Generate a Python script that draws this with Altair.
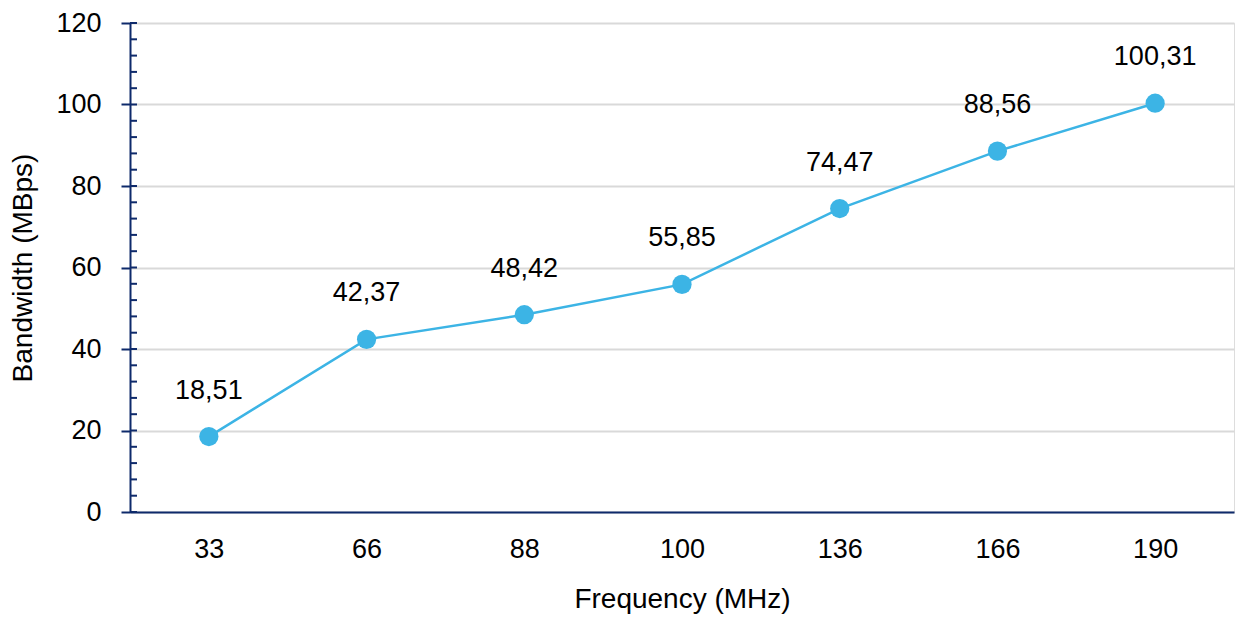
import altair as alt
import pandas as pd

frequencies = ["33", "66", "88", "100", "136", "166", "190"]
bandwidth = [18.51, 42.37, 48.42, 55.85, 74.47, 88.56, 100.31]
labels = ["18,51", "42,37", "48,42", "55,85", "74,47", "88,56", "100,31"]
y_ticks = [0, 20, 40, 60, 80, 100, 120]
minor_ticks = list(range(0, 121, 4))

df = pd.DataFrame({"freq": frequencies, "bw": bandwidth, "label": labels})
ticks_df = pd.DataFrame({"v": minor_ticks})

FONT = "'Liberation Sans', Arial, sans-serif"
NAVY = "#0e2a6b"
BLUE = "#3cb4e5"
FS = 27

x_scale = alt.Scale(domain=frequencies, paddingInner=1, paddingOuter=0.5)
x_enc = alt.X("freq:N", sort=frequencies, title="Frequency (MHz)", scale=x_scale,
              axis=alt.Axis(labelAngle=0, ticks=False, domainColor=NAVY, domainWidth=2,
                            labelFontSize=FS, titleFontSize=28, labelFont=FONT, titleFont=FONT,
                            labelColor="#000000", titleColor="#000000", titleFontWeight="normal",
                            labelPadding=24, titlePadding=23, grid=False))
x_plain = alt.X("freq:N", sort=frequencies, scale=x_scale)
y_scale = alt.Scale(domain=[0, 120], nice=False)
y_enc = alt.Y("bw:Q", title="Bandwidth (MBps)", scale=y_scale,
              axis=alt.Axis(values=y_ticks, grid=True, gridColor="#d9d9d9", gridWidth=2,
                            domainColor=NAVY, domainWidth=2, tickColor=NAVY, tickWidth=2, tickSize=9,
                            labelFontSize=FS, titleFontSize=28, labelFont=FONT, titleFont=FONT,
                            labelColor="#000000", titleColor="#000000", titleFontWeight="normal",
                            labelPadding=20, titlePadding=18))

line = alt.Chart(df).mark_line(color=BLUE, strokeWidth=2.5).encode(x=x_enc, y=y_enc)
points = alt.Chart(df).mark_circle(color=BLUE, size=370, opacity=1).encode(x=x_plain, y="bw:Q")
text = alt.Chart(df).mark_text(dy=-46, fontSize=FS, font=FONT, color="#000000").encode(
    x=x_plain, y="bw:Q", text="label:N")
minor = alt.Chart(ticks_df).mark_rule(color=NAVY, strokeWidth=2).encode(
    y=alt.Y("v:Q", scale=y_scale), x=alt.value(0), x2=alt.value(7))

chart = alt.layer(line, minor, points, text).properties(
    width=1104, height=489,
    autosize=alt.AutoSizeParams(type="none"),
    padding={"left": 130, "top": 23, "right": 6, "bottom": 110},
).configure_view(stroke=None).configure(background="white")

chart.save("out.html", embed_options={"renderer": "svg", "actions": False})
